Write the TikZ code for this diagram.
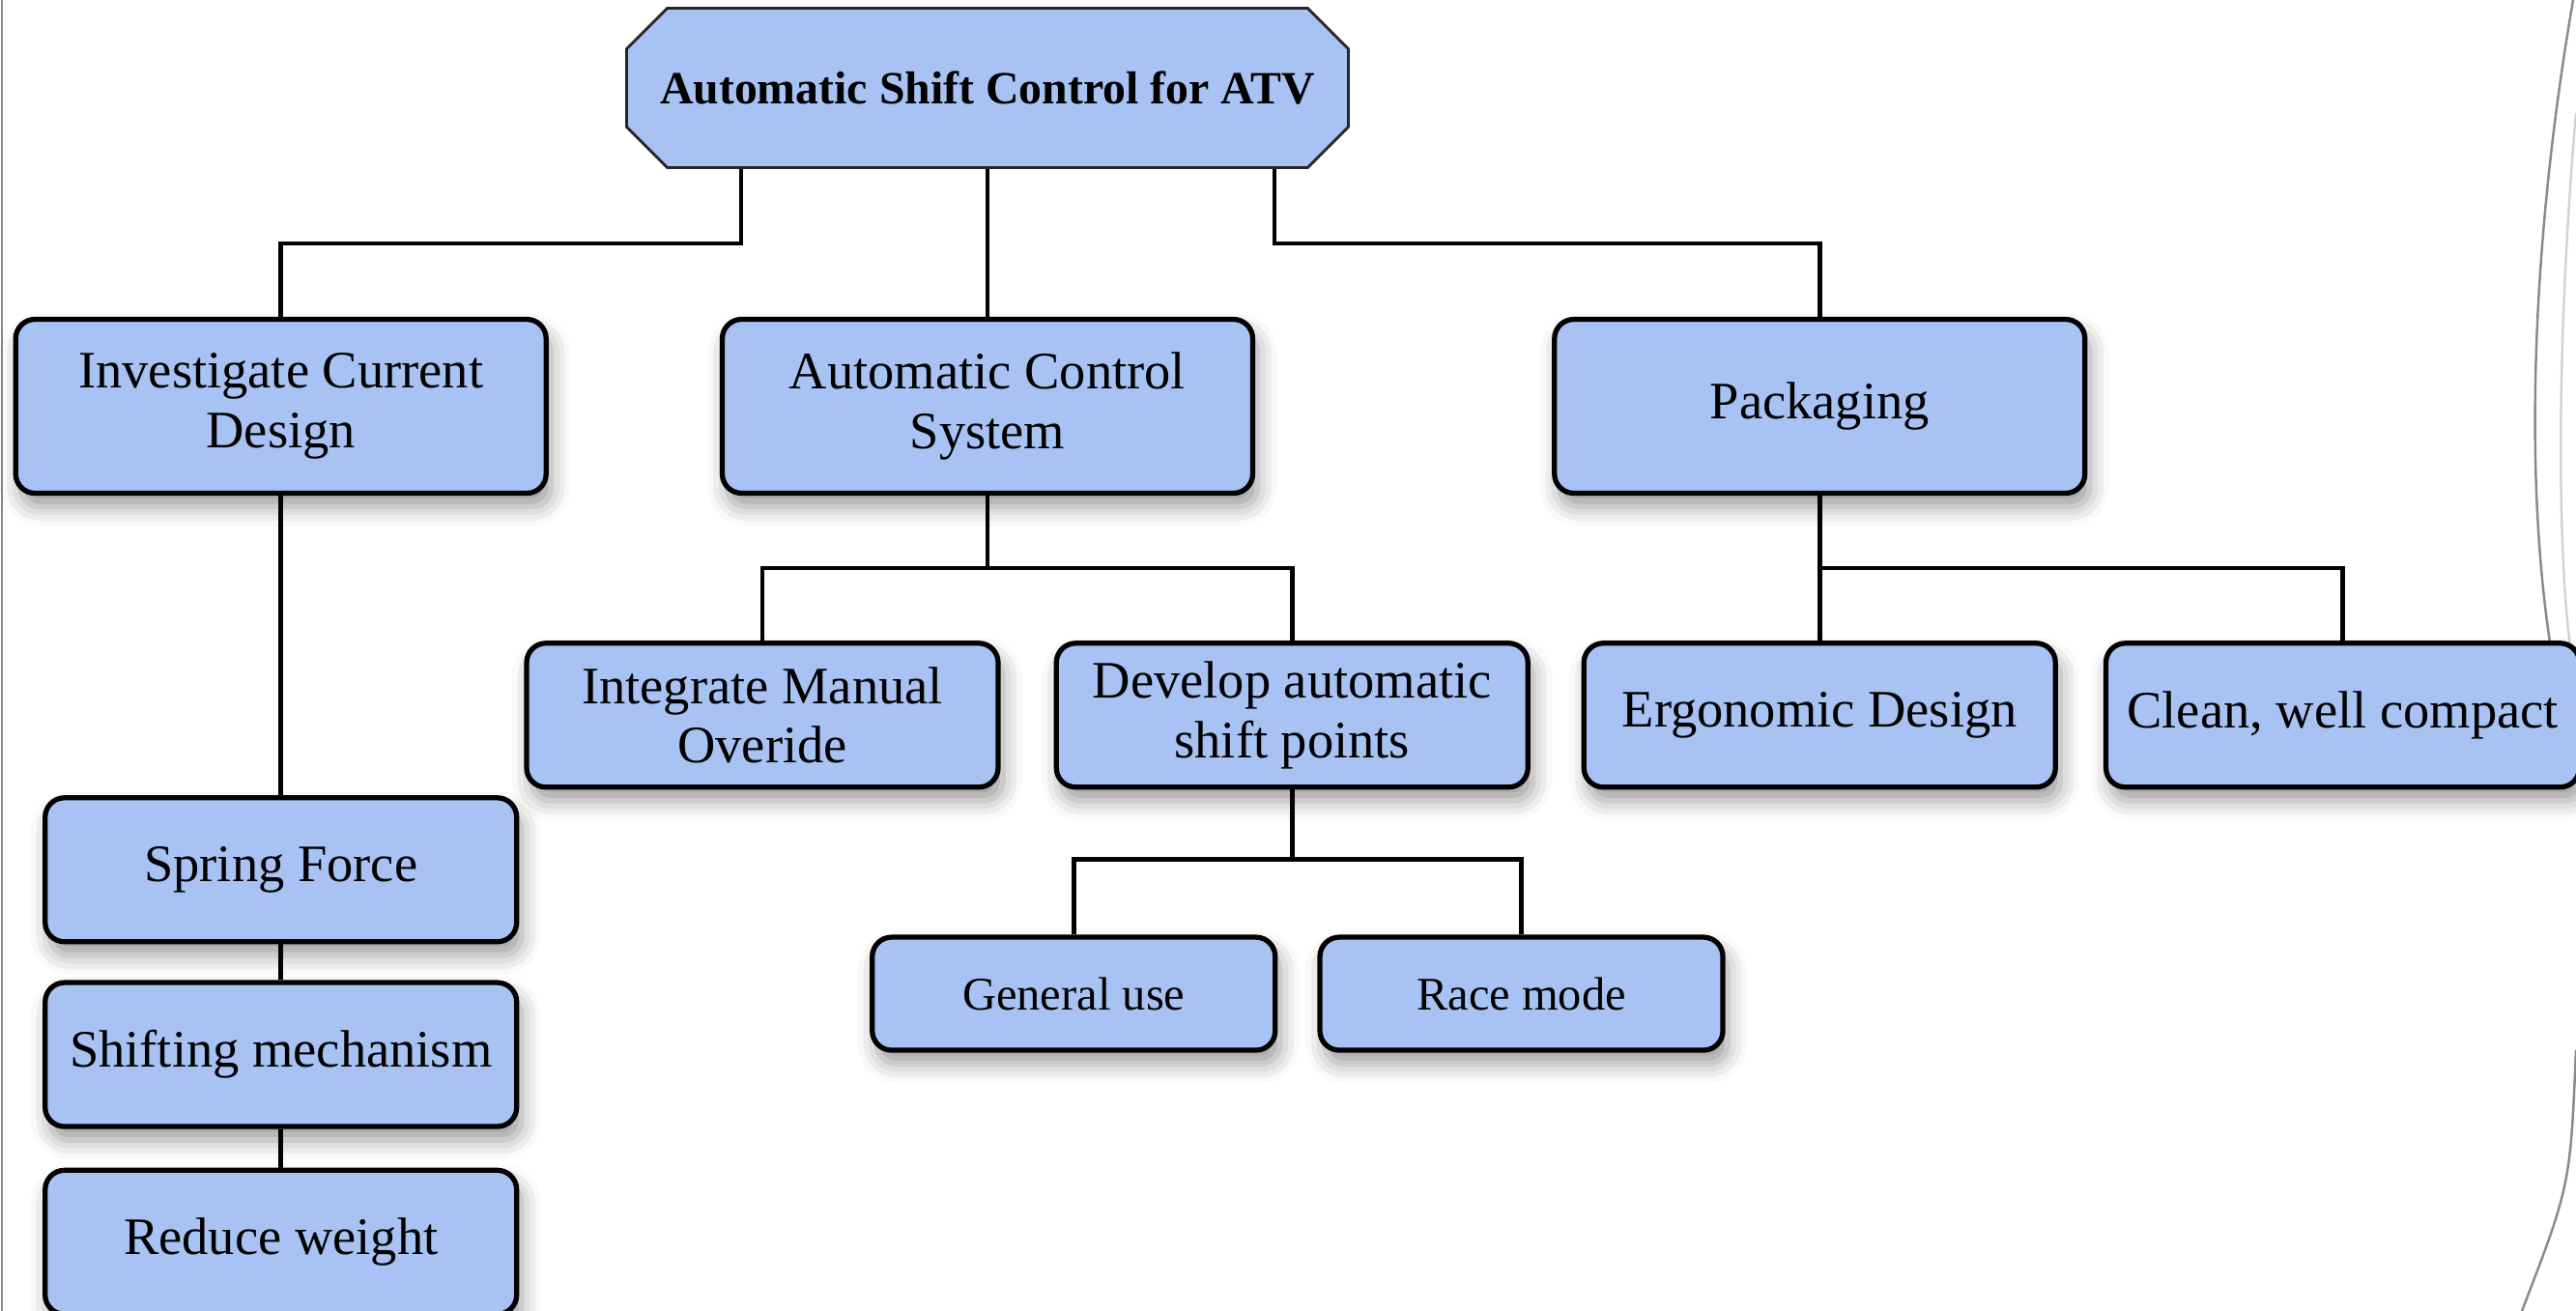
\documentclass[tikz,border=0pt]{standalone}
\usepackage{fontspec}
\setmainfont{Liberation Serif}
\usetikzlibrary{positioning,shapes.misc,shadows.blur}
\definecolor{boxblue}{HTML}{A8C3F3}
\definecolor{edgegray}{HTML}{8A8A8A}

\begin{document}
\begin{tikzpicture}[
  node distance=0.5cm,
  box/.style={draw, line width=1.5pt, rounded corners=0.2cm, fill=boxblue, align=center, inner sep=0pt,
    font=\fontsize{15.5}{17.5}\selectfont,
    blur shadow={shadow xshift=0.05cm, shadow yshift=-0.14cm, shadow blur radius=0.2cm}},
  topbox/.style={box, minimum width=5.49cm, minimum height=1.80cm},
  midbox/.style={box, minimum width=4.88cm, minimum height=1.49cm},
  modebox/.style={box, minimum width=4.17cm, minimum height=1.17cm, font=\fontsize{13.8}{15}\selectfont},
  title/.style={chamfered rectangle, chamfered rectangle sep=0.25cm, draw=black!85, line width=0.8pt,
    fill=boxblue, minimum width=7.47cm, minimum height=1.65cm, inner sep=0pt,
    font=\bfseries\fontsize{13.6}{15}\selectfont},
  link/.style={line width=1.3pt},
  slideedge/.style={draw=edgegray, line width=0.7pt}
]
\useasboundingbox (0,0) rectangle (26.66,13.57);
% slide frame
\draw[slideedge] (0.02,0) -- (0.02,13.57);
\draw[slideedge] (26.63,13.57) .. controls (26.1,10.5) and (26.1,7.5) .. (26.66,5.7);
\draw[slideedge, draw=gray!35] (26.66,12.4) .. controls (26.45,10) and (26.45,7.5) .. (26.66,6.5);
\draw[slideedge] (26.66,2.7) .. controls (26.6,1.3) .. (26.1,0);

% top level
\node[title] (root) at (10.22,12.66) {Automatic Shift Control for ATV};
\node[topbox, below=1.53cm of root] (acs) {Automatic Control\\System};
\node[topbox, left=1.77cm of acs] (inv) {Investigate Current\\Design};
\node[topbox, right=3.07cm of acs] (pack) {Packaging};

% second level
\node[midbox, below=1.50cm of acs, xshift=-2.33cm] (manual) {Integrate Manual\\Overide};
\node[midbox, right=0.55cm of manual] (develop) {Develop automatic\\shift points};
\node[midbox, below=1.50cm of pack] (ergo) {Ergonomic Design};
\node[midbox, minimum width=4.9cm, right=0.47cm of ergo] (clean) {Clean, well compact};
\node[modebox, below=1.50cm of develop, xshift=-2.26cm] (general) {General use};
\node[modebox, right=0.41cm of general] (race) {Race mode};

% left column
\node[midbox, below=3.10cm of inv] (spring) {Spring Force};
\node[midbox, below=0.37cm of spring] (shifting) {Shifting mechanism};
\node[midbox, below=0.40cm of shifting] (reduce) {Reduce weight};

% connectors
\draw[link] ([xshift=-2.55cm]root.south) -- ++(0,-0.77) -| (inv.north);
\draw[link] (root.south) -- (acs.north);
\draw[link] ([xshift=2.97cm]root.south) -- ++(0,-0.77) -| (pack.north);
\draw[link] (acs.south) -- ++(0,-0.75) coordinate (acsj);
\draw[link] (manual.north) |- (acsj) -| (develop.north);
\draw[link] (pack.south) -- ++(0,-0.75) coordinate (packj);
\draw[link] (ergo.north) |- (packj) -| (clean.north);
\draw[link] (develop.south) -- ++(0,-0.72) coordinate (devj);
\draw[link] (general.north) |- (devj) -| (race.north);
\draw[link] (inv) -- (spring);
\draw[link] (spring) -- (shifting);
\draw[link] (shifting) -- (reduce);
\end{tikzpicture}
\end{document}
